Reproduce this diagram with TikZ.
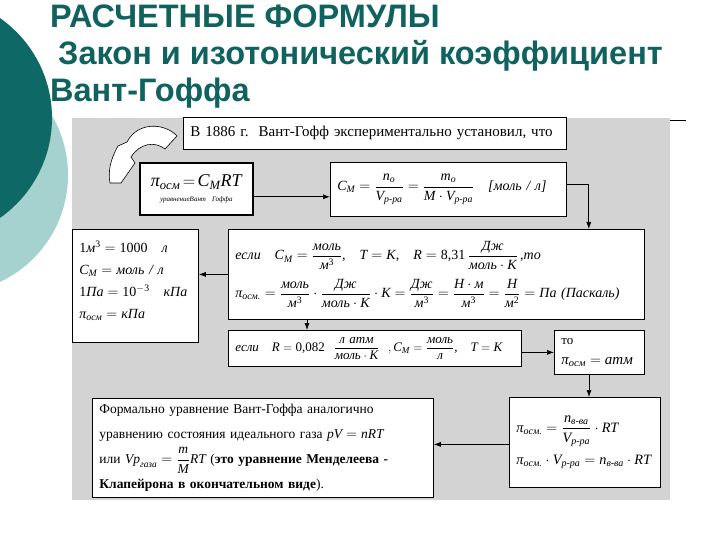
\documentclass[tikz,border=0pt]{standalone}
\usepackage{amsmath}
\usepackage{fontspec}
\setmainfont{Liberation Serif}
\newfontfamily\titlefont{Liberation Sans}
\usetikzlibrary{arrows.meta}
\definecolor{tealdark}{HTML}{0E6865}
\definecolor{teallight}{HTML}{A5D2CE}
\definecolor{titleteal}{HTML}{10625F}
\definecolor{panelgray}{HTML}{D3D3D3}
\newcommand{\ti}[1]{\text{\itshape #1}}
\newcommand{\tn}[1]{\text{#1}}

\tikzset{
  frm/.style={draw, fill=white, line width=0.8pt, anchor=north west, inner xsep=7pt,
    inner ysep=1pt, align=left, font=\fontsize{14}{18}\selectfont},
  link/.style={-{Latex[length=7pt,width=5pt]}, line width=0.7pt},
  ttl/.style={anchor=base west, text=titleteal, inner sep=0pt,
    font=\titlefont\bfseries\fontsize{32.5}{36}\selectfont}
}

\begin{document}
\begin{tikzpicture}[x=1pt, y=-1pt]
  \useasboundingbox (0,0) rectangle (720,540);
  % slide background
  \fill[white] (0,0) rectangle (720,540);
  \fill[teallight] (-50,175) circle (118);
  \fill[tealdark] (-70,118) circle (122);
  \fill[panelgray] (72,118) rectangle (670,500);
  \draw[line width=0.6pt] (670,120) -- (686,120);

  % title
  \node[ttl] (t1) at (50,28) {РАСЧЕТНЫЕ ФОРМУЛЫ};
  \node[ttl] (t2) at (58,65) {Закон и изотонический коэффициент};
  \node[ttl] (t3) at (50,102) {Вант-Гоффа};

  % boxes
  \node[frm, minimum height=32pt, text width=369pt,
    font=\fontsize{15}{18}\selectfont] (fact) at (183,117)
    {В 1886 г.\ \ Вант-Гофф экспериментально установил, что};
  \node[frm, line width=1.6pt, minimum height=52pt, text width=99pt, align=center,
    font=\fontsize{18}{18}\selectfont] (osm) at (139,162)
    {$\ti{π}_{\ti{осм}}\!=\!\ti{C}_{\ti{М}}\ti{RT}$\\[-3pt]
     {\fontsize{7}{8}\selectfont\itshape уравнениеВант Гоффа}};
  \node[frm, minimum height=54pt, text width=222pt] (conc) at (330,162)
    {$\ti{C}_{\ti{М}} = \dfrac{\ti{n}_{\ti{о}}}{\ti{V}_{\ti{р-ра}}}
      = \dfrac{\ti{m}_{\ti{о}}}{\ti{М}\cdot\ti{V}_{\ti{р-ра}}}$\quad\textit{[моль / л]}};
  \node[frm, minimum height=113pt, text width=112pt,
    font=\fontsize{14}{22}\selectfont] (units) at (72,229)
    {$\tn{1}\ti{м}^{\tn{3}} = \tn{1000}\quad\ti{л}$\\
     $\ti{C}_{\ti{М}} = \ti{моль / л}$\\
     $\tn{1}\ti{Па} = \tn{10}^{-\tn{3}}\quad\ti{кПа}$\\
     $\ti{π}_{\ti{осм}} = \ti{кПа}$\\[-10pt]\mbox{}};
  \node[frm, minimum height=90pt, text width=402pt,
    font=\fontsize{14}{22}\selectfont] (si) at (228,229)
    {\textit{если}\quad $\ti{C}_{\ti{М}} = \dfrac{\ti{моль}}{\ti{м}^{\tn{3}}}$,\quad
      $\ti{T} = \ti{K}$,\quad $\ti{R} = \tn{8,31}\,\dfrac{\ti{Дж}}{\ti{моль}\cdot\ti{K}}$\,,\textit{то}\\[8pt]
     $\ti{π}_{\ti{осм.}} = \dfrac{\ti{моль}}{\ti{м}^{\tn{3}}}\cdot\dfrac{\ti{Дж}}{\ti{моль}\cdot\ti{K}}\cdot\ti{K}
      = \dfrac{\ti{Дж}}{\ti{м}^{\tn{3}}} = \dfrac{\ti{Н}\cdot\ti{м}}{\ti{м}^{\tn{3}}} = \dfrac{\ti{Н}}{\ti{м}^{\tn{2}}}
      = \ti{Па (Паскаль)}$};
  \node[frm, minimum height=36pt, text width=279pt, inner ysep=0pt,
    font=\fontsize{13}{16}\selectfont] (atm) at (228,330)
    {\textit{если}\quad $\ti{R} = \tn{0,082}\ \ \dfrac{\ti{л атм}}{\ti{моль}\cdot\ti{K}}$\ \
     $,\ti{C}_{\ti{М}} = \dfrac{\ti{моль}}{\ti{л}}$,\quad $\ti{T} = \ti{K}$};
  \node[frm, minimum height=44pt, text width=76pt,
    font=\fontsize{13}{20}\selectfont] (then) at (554,330)
    {то\\ {\fontsize{15}{15}\selectfont$\ti{π}_{\ti{осм}} = \ti{атм}$}};
  \node[frm, minimum height=90pt, text width=137pt,
    font=\fontsize{14.3}{20}\selectfont] (law) at (509,397)
    {$\ti{π}_{\ti{осм.}} = \dfrac{\ti{n}_{\ti{в-ва}}}{\ti{V}_{\ti{р-ра}}}\cdot\ti{RT}$\\[8pt]
     $\ti{π}_{\ti{осм.}}\cdot\ti{V}_{\ti{р-ра}} = \ti{n}_{\ti{в-ва}}\cdot\ti{RT}$};
  \node[frm, minimum height=99pt, text width=327pt,
    font=\fontsize{13.5}{25}\selectfont] (gas) at (92,398)
    {Формально уравнение Вант-Гоффа аналогично\\
     уравнению состояния идеального газа $\ti{pV} = \ti{nRT}$\\
     или $\ti{Vp}_{\ti{газа}} = \dfrac{\ti{m}}{\ti{M}}\ti{RT}$ (\textbf{это уравнение Менделеева -}\\
     \textbf{Клапейрона в окончательном виде}).};

  % curved block arrow
  \draw[line width=0.6pt, fill=white] (177,136) .. controls (165,123) and (138,121) .. (127,142)
    -- (118,146) .. controls (110,160) and (108,172) .. (110,183) -- (121,183) -- (135,163)
    -- (131,157) .. controls (140,143) and (155,141) .. (165,149) -- cycle;

  % connectors
  \draw[link] ([yshift=-8pt]osm.east) -- ([yshift=-8pt]osm.east -| conc.west);
  \draw[link] ([yshift=5pt]conc.east) -| ([xshift=-56pt]si.north east);
  \draw[link] (si.west) -- (si.west -| units.east);
  \draw[link] ([xshift=79pt]si.south west) -- ([xshift=79pt]si.south west |- atm.north);
  \draw[link] (then.west -| atm.east) -- (then.west);
  \draw[link] ([xshift=35pt]then.south west) -- ([xshift=35pt]then.south west |- law.north);
  \draw[link] ([yshift=-2pt]law.west) -- ([yshift=-2pt]law.west -| gas.east);
\end{tikzpicture}
\end{document}
